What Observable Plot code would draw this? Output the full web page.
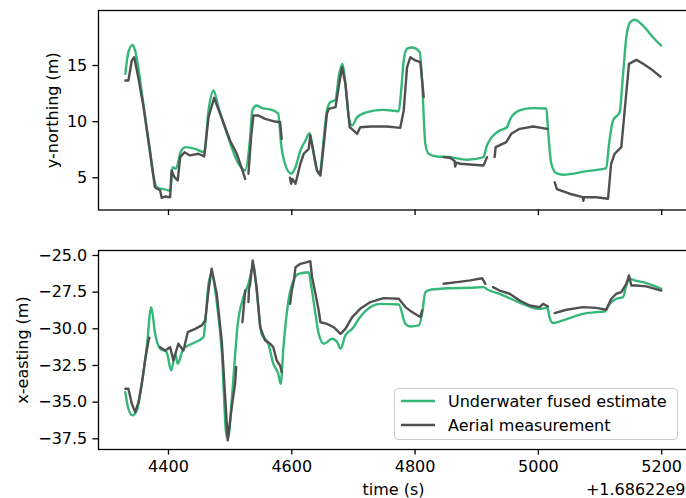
<!DOCTYPE html>
<html>
<head>
<meta charset="utf-8">
<script src="https://cdn.jsdelivr.net/npm/d3@7"></script>
<script src="https://cdn.jsdelivr.net/npm/@observablehq/plot@0.6"></script>
<style>
  html, body { margin: 0; padding: 0; background: white; overflow: hidden; }
  #wrap { position: relative; width: 690px; height: 498px; font-family: "DejaVu Sans", sans-serif; }
  #legend { position: absolute; left: 394px; top: 388px; width: 284px; height: 52px; box-sizing: border-box;
            border: 1px solid #cccccc; border-radius: 4px; background: rgba(255,255,255,0.8); font-size: 16px; }
  .row { position: absolute; left: 0; height: 20px; display: flex; align-items: center; }
  .row svg { margin-left: 5px; margin-right: 12px; }
</style>
</head>
<body>
<div id="wrap">
  <div id="top"></div>
  <div id="bottom"></div>
  <div id="legend">
    <div class="row" style="top:2px"><svg width="36" height="6"><line x1="1" x2="35" y1="3" y2="3" stroke="#35b779" stroke-width="2.4"/></svg><span id="lg1"></span></div>
    <div class="row" style="top:26px"><svg width="36" height="6"><line x1="1" x2="35" y1="3" y2="3" stroke="#505050" stroke-width="2.4"/></svg><span id="lg2"></span></div>
  </div>
</div>
<script>
// ---- data (time offset +1.68622e9 s) ----
const seriesNames = ["Underwater fused estimate", "Aerial measurement"];
const xTicks = [4400, 4600, 4800, 5000, 5200];
const northTicks = [5, 10, 15];
const eastTicks = [-37.5, -35.0, -32.5, -30.0, -27.5, -25.0];

const fusedNorth = [[4330,14.26],[4335,16.2],[4342,16.84],[4346,16.3],[4357,12.5],[4368,8.0],[4376,5.05],[4381,4.16],[4400,3.87],[4403,3.8],[4406.5,5.95],[4412,5.8],[4420.5,7.4],[4428,7.73],[4443,7.58],[4458,7.28],[4465,11.0],[4473,12.77],[4481,11.3],[4497,8.6],[4513.5,6.25],[4524,5.65],[4532.5,8.6],[4536,11.0],[4543,11.44],[4551,11.23],[4567.5,11.05],[4578,10.7],[4582.7,8.0],[4589,6.25],[4599,5.36],[4606,5.94],[4614,7.43],[4622,8.3],[4629,8.97],[4633,8.0],[4641,5.65],[4645,5.36],[4652,8.6],[4657,11.0],[4662.7,11.73],[4671,11.95],[4676,13.96],[4681.7,15.15],[4687,13.37],[4692.4,10.4],[4698,9.66],[4706,10.4],[4722,10.84],[4749,11.05],[4773.5,10.93],[4777,12.48],[4781.6,15.45],[4787,16.5],[4795,16.6],[4807.5,16.2],[4811,13.96],[4816.7,8.0],[4822,7.14],[4835.7,6.9],[4857,6.84],[4884,6.6],[4911,6.84],[4916,7.8],[4924,8.6],[4937,9.2],[4949,9.5],[4954.6,10.25],[4969.7,11.0],[4991,11.2],[5013,11.17],[5015.7,9.2],[5021,6.25],[5029,5.41],[5040,5.27],[5078,5.59],[5110,5.86],[5114.6,8.0],[5121,10.1],[5131.8,10.84],[5137,13.96],[5142.6,17.5],[5149,18.86],[5156,19.07],[5169.7,18.56],[5186,17.5],[5199,16.78]];

const aerialNorth = [[4330,13.66],[4335,13.66],[4340.5,15.45],[4344.4,15.74],[4351,13.96],[4359.5,11.3],[4370,7.43],[4378,4.16],[4386.5,3.87],[4389,3.22],[4394.6,3.33],[4402.7,3.27],[4405,5.65],[4409.7,5.05],[4415,4.76],[4419,6.84],[4426,7.28],[4435,6.99],[4448.6,7.14],[4458,6.9],[4465,10.4],[4474,12.12],[4483.8,10.7],[4500,8.3],[4510.8,7.14],[4520,5.65],[4524.4,4.9],null,[4529.7,5.36],[4534,8.6],[4537.8,10.55],[4546,10.55],[4556.8,10.25],[4570,10.04],[4581,9.95],[4583.7,8.47],null,[4597,5.0],[4599,4.47],[4601,4.9],[4606,4.47],[4614,6.25],[4619.4,7.14],[4627.5,7.58],[4630,8.77],[4635.6,7.14],[4641,5.65],[4646.5,5.2],[4652,8.0],[4657,10.7],[4660,11.14],[4671,11.3],[4676,13.07],[4681.7,14.85],[4687,13.37],[4694,9.5],[4700.5,9.2],[4706,8.9],[4711,9.5],[4727.5,9.57],[4754.6,9.57],[4776,9.45],[4781.6,11.0],[4787,14.85],[4792.4,15.74],[4800.5,15.45],[4808.6,15.3],[4814,12.18],null,[4846.4,6.84],[4857,6.78],[4864,6.5],[4865,6.0],[4867,6.35],[4873.5,6.25],[4895,6.16],[4911,6.1],[4916.7,6.84],null,[4929,6.84],[4930.7,7.73],[4948,8.17],[4956,8.92],[4969.7,9.36],[4991.4,9.57],[5014.6,9.36],null,[5026.5,4.6],[5030,4.0],[5050.7,3.58],[5072,3.27],[5073,2.95],[5074,3.27],[5094,3.27],[5113,3.13],[5118,6.25],[5123.7,7.14],[5134.5,7.73],[5140,11.0],[5147,15.15],[5159,15.5],[5170,15.15],[5186,14.55],[5198,14.0]];

const fusedEast = [[4330,-34.32],[4335,-35.45],[4341.6,-35.9],[4348.6,-35.57],[4356.7,-33.75],[4364.8,-31.25],[4372,-28.52],[4378.4,-30.34],[4386.5,-31.36],[4397,-31.59],[4404.4,-32.84],[4411,-31.7],[4415,-32.38],[4424,-31.36],[4437.8,-31.02],[4456.8,-30.57],[4459.5,-29.66],[4465,-26.93],[4470,-26.25],[4478,-28.07],[4486.4,-31.48],[4494.5,-37.39],[4497,-37.39],[4502.6,-34.88],[4512.4,-29.66],[4521.6,-27.84],[4529.7,-26.93],[4537.8,-25.68],[4543,-27.39],[4551,-30.34],[4562,-31.02],[4570,-32.38],[4578,-33.06],[4582,-33.75],[4586.5,-31.25],[4594.6,-28.07],[4602.7,-26.7],[4611,-26.25],[4627.5,-26.14],[4631,-26.93],[4638.4,-28.98],[4643.7,-30.34],[4652,-31.02],[4665.4,-30.68],[4673.6,-30.9],[4679,-31.36],[4687,-30.45],[4698,-30.0],[4711,-29.2],[4727.6,-28.52],[4743.8,-28.3],[4773.5,-28.34],[4784.3,-29.66],[4792.4,-29.84],[4806,-29.77],[4811.4,-28.98],[4816.7,-27.5],[4824.8,-27.34],[4857,-27.23],[4889.7,-27.2],[4911,-27.16],[4918,-27.34],[4937,-27.61],[4959,-28.02],[4980.5,-28.4],[5002,-28.64],[5014.6,-28.57],[5018,-29.2],[5023.8,-29.6],[5040,-29.43],[5072.4,-28.98],[5094,-28.86],[5107.5,-28.82],[5115.6,-28.3],[5126.4,-27.95],[5137.3,-27.84],[5142.6,-27.05],[5148,-26.59],[5156,-26.7],[5169.7,-26.82],[5199.4,-27.27]];

const aerialEast = [[4330,-34.09],[4335,-34.09],[4340.5,-35.11],[4346,-35.68],[4351.4,-35.0],[4356.7,-33.75],[4362,-32.16],[4367.6,-30.8],[4369,-30.6],null,[4386.5,-31.25],[4394.6,-31.48],[4402.7,-31.25],[4408,-32.16],[4416,-31.02],[4424.3,-31.48],[4431.3,-30.23],[4443.3,-30.0],[4454,-29.77],[4459.5,-29.43],[4465,-27.39],[4470,-25.9],[4478.3,-27.61],[4486.4,-30.8],[4496.2,-37.61],[4502.6,-35.34],[4508,-33.75],[4509.8,-32.6],null,[4520,-29.55],[4524.4,-27.39],null,[4529.7,-28.18],[4530.5,-27.3],[4532.5,-26.93],[4536.7,-25.34],[4543,-27.16],[4548.7,-29.89],[4556.8,-30.8],[4565,-31.02],[4570,-31.25],[4575.6,-32.16],[4581,-32.5],[4583.7,-32.95],null,[4597.3,-28.3],[4600,-27.39],[4603.5,-26.7],[4606,-25.8],[4614,-25.57],[4625,-25.45],[4630,-25.39],[4633,-26.48],[4638.4,-27.61],[4643.7,-28.75],[4646.5,-29.55],[4657.3,-29.66],[4668,-29.89],[4679,-30.34],[4687,-30.0],[4698,-29.2],[4711,-28.64],[4727.6,-28.18],[4749,-27.91],[4773.5,-27.95],[4784.3,-28.52],[4795,-28.86],[4808.6,-29.2],[4811.4,-28.75],null,[4846.4,-26.93],[4868,-26.82],[4889.7,-26.7],[4908.7,-26.55],[4914,-26.93],null,[4926.5,-27.16],[4937,-27.39],[4953.4,-27.61],[4969.7,-28.07],[4985.9,-28.41],[5002,-28.52],[5007.6,-28.3],[5015.7,-28.48],null,[5026.5,-28.93],[5045.4,-28.7],[5072.4,-28.52],[5094,-28.57],[5110,-28.7],[5118.3,-27.95],[5126.4,-27.61],[5134.5,-27.5],[5142.6,-26.93],[5147,-26.36],[5150.7,-27.05],[5158.8,-27.05],[5175,-27.11],[5199.4,-27.39]];

// ---- rendering ----
const GREEN = "#35b779", GRAY = "#505050";
const FS = 16, LW = 2.4, SPINE = 1.3, TICK = 5.6;
const toRows = arr => arr.map(p => p ? {t: p[0], v: p[1]} : {t: NaN, v: NaN});
const xDomain = [4286.5, 5243.5];
const style = {fontFamily: "DejaVu Sans", fontSize: FS + "px", color: "black", background: "white", overflow: "visible"};

const topPlot = Plot.plot({
  width: 690, height: 230, marginLeft: 98, marginRight: 2, marginTop: 10, marginBottom: 20.5,
  style,
  x: {domain: xDomain},
  y: {domain: [2.13, 19.9]},
  marks: [
    Plot.line(toRows(fusedNorth), {x: "t", y: "v", stroke: GREEN, strokeWidth: LW, curve: "monotone-x"}),
    Plot.line(toRows(aerialNorth), {x: "t", y: "v", stroke: GRAY, strokeWidth: LW}),
    Plot.axisX({ticks: xTicks, tickSize: TICK, tickFormat: () => "", label: null, strokeWidth: SPINE}),
    Plot.axisY({ticks: northTicks, tickSize: TICK, tickPadding: 5.6, tickFormat: d3.format("d"), label: null, strokeWidth: SPINE, fontSize: FS}),
    Plot.frame({stroke: "black", strokeWidth: SPINE}),
    Plot.text(["y-northing (m)"], {text: d => d, frameAnchor: "left", textAnchor: "middle", lineAnchor: "middle", dx: -46, rotate: -90, fontSize: FS})
  ]
});

const bottomPlot = Plot.plot({
  width: 690, height: 268, marginLeft: 98, marginRight: 2, marginTop: 20, marginBottom: 49,
  style,
  x: {domain: xDomain},
  y: {domain: [-38.23, -24.66]},
  marks: [
    Plot.line(toRows(fusedEast), {x: "t", y: "v", stroke: GREEN, strokeWidth: LW, curve: "monotone-x"}),
    Plot.line(toRows(aerialEast), {x: "t", y: "v", stroke: GRAY, strokeWidth: LW}),
    Plot.axisX({ticks: xTicks, tickSize: TICK, tickPadding: 5.6, tickFormat: d3.format("d"), label: null, strokeWidth: SPINE, fontSize: FS}),
    Plot.axisY({ticks: eastTicks, tickSize: TICK, tickPadding: 5.6, tickFormat: d3.format(".1f"), label: null, strokeWidth: SPINE, fontSize: FS}),
    Plot.frame({stroke: "black", strokeWidth: SPINE}),
    Plot.text(["x-easting (m)"], {text: d => d, frameAnchor: "left", textAnchor: "middle", lineAnchor: "middle", dx: -76, rotate: -90, fontSize: FS}),
    Plot.text(["time (s)"], {text: d => d, frameAnchor: "bottom", textAnchor: "middle", lineAnchor: "middle", dy: 40, fontSize: FS}),
    Plot.text(["+1.68622e9"], {text: d => d, frameAnchor: "bottom-right", textAnchor: "end", lineAnchor: "middle", dx: -3, dy: 40, fontSize: FS})
  ]
});

document.getElementById("top").appendChild(topPlot);
document.getElementById("bottom").appendChild(bottomPlot);
document.getElementById("lg1").textContent = seriesNames[0];
document.getElementById("lg2").textContent = seriesNames[1];
</script>
</body>
</html>
